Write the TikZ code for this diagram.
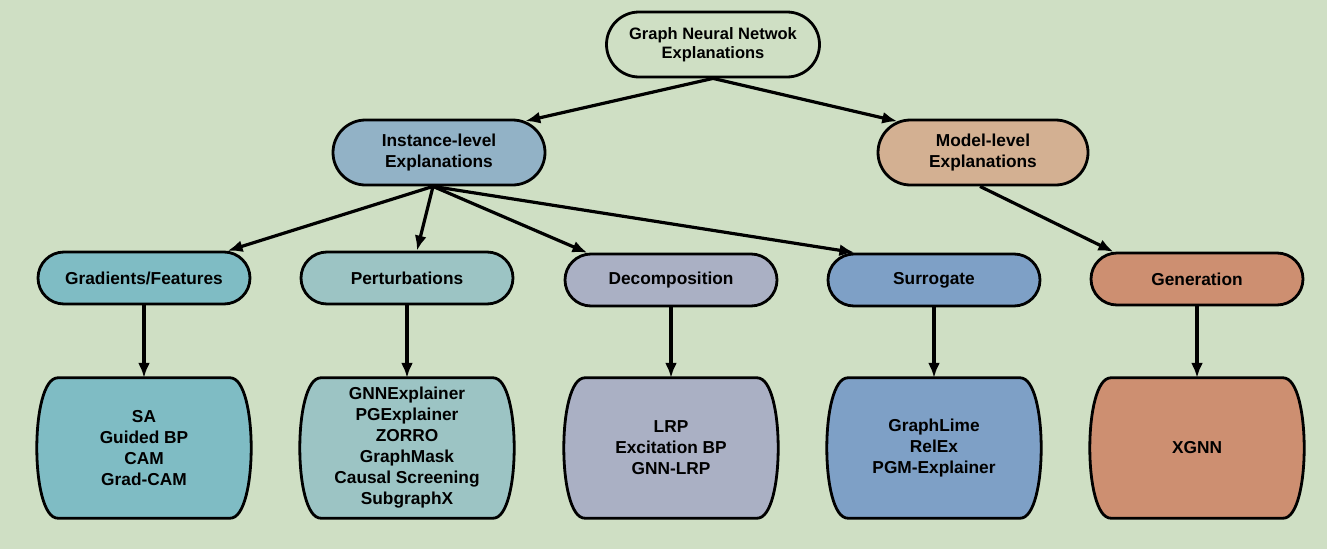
\documentclass[tikz,border=0pt]{standalone}
\usepackage{fontspec}
\setmainfont{Liberation Sans}
\usetikzlibrary{shapes.misc,arrows.meta,backgrounds}
\definecolor{bgc}{HTML}{CFDFC4}
\definecolor{cinst}{HTML}{92B2C6}
\definecolor{cmodel}{HTML}{D3B092}
\definecolor{cgrad}{HTML}{7FBCC4}
\definecolor{cpert}{HTML}{9CC4C4}
\definecolor{cdec}{HTML}{AAB0C4}
\definecolor{csur}{HTML}{7EA0C6}
\definecolor{cgen}{HTML}{CD8F71}
\tikzset{
  pill/.style={rounded rectangle, draw=black, line width=2.8pt, align=center,
    font=\fontsize{17.3}{21}\selectfont\bfseries, inner sep=0pt},
  lvl/.style={pill, minimum width=212pt, minimum height=65pt},
  cat/.style={pill, minimum width=212pt, minimum height=52pt},
  leaf/.style={rectangle, draw=none, align=center, inner sep=0pt,
    minimum width=212pt, minimum height=140pt,
    font=\fontsize{17.3}{21}\selectfont\bfseries},
  barrel/.style={draw=black, line width=2.8pt},
  conn/.style={line width=3.2pt, -{Latex[length=15pt,width=12pt]}},
}
\newcommand{\barrelpath}[2]{%
  \filldraw[barrel, fill=#2] ([xshift=20pt]#1.north west) -- ([xshift=-20pt]#1.north east)
    .. controls ([xshift=8pt]#1.north east) and ([xshift=8pt]#1.south east) .. ([xshift=-20pt]#1.south east)
    -- ([xshift=20pt]#1.south west)
    .. controls ([xshift=-8pt]#1.south west) and ([xshift=-8pt]#1.north west) .. cycle;}
\begin{document}
\begin{tikzpicture}[x=1pt,y=-1pt]
\useasboundingbox (0,0) rectangle (1327,549);

\node[pill, minimum width=213pt, minimum height=65pt, fill=bgc,
  font=\fontsize{16.5}{19.5}\selectfont\bfseries] (top) at (713,44.5) {Graph Neural Netwok\\Explanations};
\node[lvl, fill=cinst] (inst) at (439,152.5) {Instance-level\\Explanations};
\node[lvl, fill=cmodel, minimum width=210pt] (model) at (983,152.5) {Model-level\\Explanations};

\node[cat, fill=cgrad] (grad) at (144,278) {Gradients/Features};
\node[cat, fill=cpert] (pert) at (407,278) {Perturbations};
\node[cat, fill=cdec] (dec) at (671,280) {Decomposition};
\node[cat, fill=csur] (sur) at (934,280) {Surrogate};
\node[cat, fill=cgen] (gen) at (1197,279) {Generation};

\node[leaf] (b1) at (144,448) {SA\\Guided BP\\CAM\\Grad-CAM};
\node[leaf] (b2) at (407,448) {GNNExplainer\\PGExplainer\\ZORRO\\GraphMask\\Causal Screening\\SubgraphX};
\node[leaf] (b3) at (671,448) {LRP\\Excitation BP\\GNN-LRP};
\node[leaf] (b4) at (934,448) {GraphLime\\RelEx\\PGM-Explainer};
\node[leaf] (b5) at (1197,448) {XGNN};

\begin{scope}[on background layer]
\fill[bgc] (0,0) rectangle (1327,549);
\barrelpath{b1}{cgrad}
\barrelpath{b2}{cpert}
\barrelpath{b3}{cdec}
\barrelpath{b4}{csur}
\barrelpath{b5}{cgen}
\end{scope}

\draw[conn] (top.south) -- (inst.20);
\draw[conn] (top.south) -- (model.160);
\draw[conn] ([xshift=-6pt]inst.south) -- (grad.18);
\draw[conn] ([xshift=-6pt]inst.south) -- (pert.70);
\draw[conn] ([xshift=-6pt]inst.south) -- (dec.162);
\draw[conn] ([xshift=-6pt]inst.south) -- (sur.161);
\draw[conn] ([xshift=-3pt]model.south) -- (gen.162);

\draw[conn] (grad.south) -- (b1.north);
\draw[conn] (pert.south) -- (b2.north);
\draw[conn] (dec.south) -- (b3.north);
\draw[conn] (sur.south) -- (b4.north);
\draw[conn] (gen.south) -- (b5.north);
\end{tikzpicture}
\end{document}
